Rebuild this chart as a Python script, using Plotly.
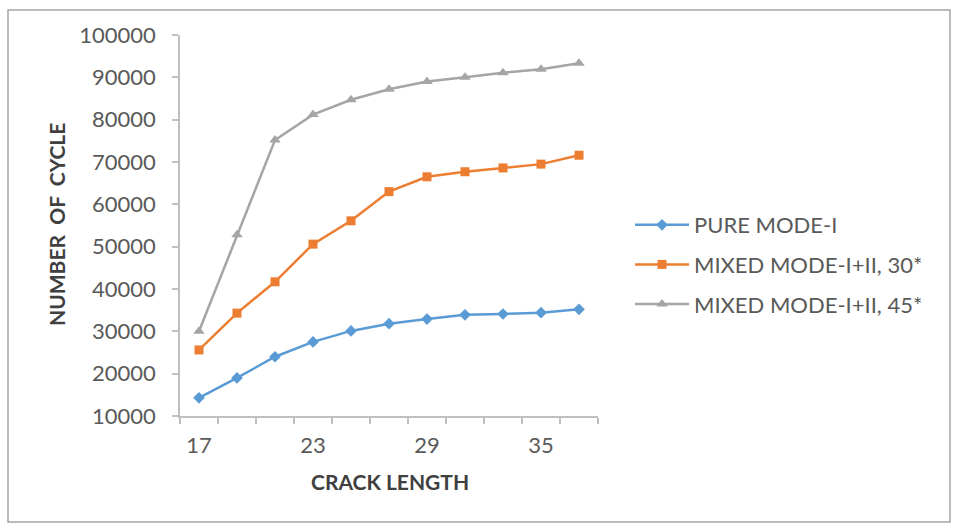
import plotly.graph_objects as go

crack_length = [17, 19, 21, 23, 25, 27, 29, 31, 33, 35, 37]
pure_mode_i = [14300, 19000, 24000, 27500, 30100, 31800, 32900, 33900, 34100, 34400, 35200]
mixed_30 = [25600, 34300, 41700, 50600, 56100, 63000, 66500, 67700, 68600, 69500, 71600]
mixed_45 = [30000, 52800, 75200, 81200, 84700, 87200, 89000, 90000, 91100, 91900, 93300]
x_tick_vals = [17, 23, 29, 35]
y_tick_vals = [10000, 20000, 30000, 40000, 50000, 60000, 70000, 80000, 90000, 100000]
y_tick_text = [str(v) for v in y_tick_vals]

FONT = "Lato"
TXT = "#595959"

fig = go.Figure()
series = [
    ("PURE MODE-I", pure_mode_i, "#5B9BD5", "diamond", 9),
    ("MIXED MODE-I+II, 30*", mixed_30, "#ED7D31", "square", 9),
    ("MIXED MODE-I+II, 45*", mixed_45, "#A5A5A5", "triangle-up", 10),
]
for i, (name, vals, col, sym, ms) in enumerate(series):
    fig.add_trace(go.Scatter(
        x=crack_length, y=vals, name=name, mode="lines+markers",
        line=dict(color=col, width=2.5),
        marker=dict(color=col, symbol=sym, size=ms),
        legendgroup=str(i),
    ))

L, R, T, B = 180, 598, 35, 416
W, H = 980, 526

def px(xp):
    return (xp - L) / (R - L)

def py(yp):
    return (B - yp) / (B - T)

fig.update_layout(
    width=W, height=H,
    margin=dict(l=L, r=W - R, t=T, b=H - B),
    paper_bgcolor="white", plot_bgcolor="white",
    font=dict(family=FONT, color=TXT, size=22),
    showlegend=True,
    legend=dict(
        x=px(630), y=py(204), xanchor="left", yanchor="top",
        font=dict(family=FONT, size=22, color=TXT),
        tracegroupgap=8, itemwidth=54, bgcolor="rgba(0,0,0,0)",
    ),
    xaxis=dict(
        range=[16, 38], tickmode="array", tickvals=x_tick_vals,
        ticks="", showgrid=False, zeroline=False,
        showline=True, linecolor="#BFBFBF", linewidth=1.5,
        tickfont=dict(family=FONT, size=22, color=TXT),
        ticklabelstandoff=9,
        minor=dict(tickmode="array", tickvals=list(range(16, 39, 2)),
                   ticks="outside", ticklen=6, tickcolor="#BFBFBF", tickwidth=1.5,
                   showgrid=False),
    ),
    yaxis=dict(
        range=[10000, 100000], tickmode="array", tickvals=y_tick_vals,
        ticktext=y_tick_text,
        ticks="outside", ticklen=6, tickcolor="#BFBFBF", tickwidth=1.5,
        showgrid=False, zeroline=False,
        showline=True, linecolor="#BFBFBF", linewidth=1.5,
        tickfont=dict(family=FONT, size=22, color=TXT),
        ticklabelstandoff=12,
    ),
)

fig.add_annotation(
    text="<b>NUMBER  OF  CYCLE</b>", xref="paper", yref="paper",
    x=px(56), y=py(225), xanchor="center", yanchor="middle",
    showarrow=False, textangle=-90,
    font=dict(family=FONT, size=21, color="#404040"),
)
fig.add_annotation(
    text="<b>CRACK LENGTH</b>", xref="paper", yref="paper",
    x=px(390), y=py(482), xanchor="center", yanchor="middle",
    showarrow=False,
    font=dict(family=FONT, size=21, color="#404040"),
)

fig.add_shape(
    type="rect", xref="paper", yref="paper",
    x0=px(8), x1=px(950), y0=py(522), y1=py(10),
    line=dict(color="#A6A6A6", width=1.5), fillcolor="rgba(0,0,0,0)",
    layer="below",
)

fig.write_html("out.html")
